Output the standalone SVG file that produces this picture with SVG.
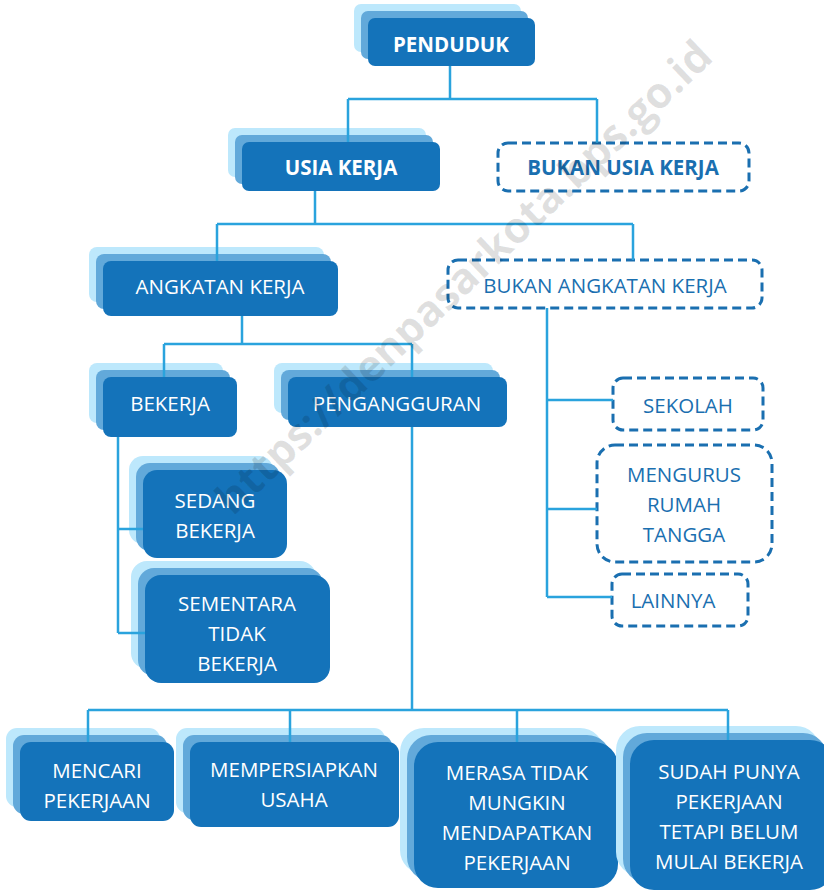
<svg xmlns="http://www.w3.org/2000/svg" width="824" height="892" viewBox="0 0 824 892">
<style>
.l1{fill:#bde8fc}
.l2{fill:#62a9da}
.l3{fill:#1473ba}
.d{fill:#fff;stroke:#1a6fb0;stroke-width:3;stroke-dasharray:9 5}
.t{font-family:"Open Sans","Liberation Sans",sans-serif;font-size:20.5px;text-anchor:middle;fill:#fff}
.b{font-weight:bold}
.bl{fill:#1a6fb0}
.c{fill:none;stroke:#2aa3dd;stroke-width:2.5}
.wm{font-family:"Open Sans","Liberation Sans",sans-serif;font-weight:bold;font-size:43px;fill:#000;fill-opacity:0.12;text-anchor:middle}
</style>
<rect width="824" height="892" fill="#fff"/>
<g id="penduduk">
<rect class="l1" x="354" y="4" width="167" height="48" rx="7"/>
<rect class="l2" x="361" y="11" width="167" height="48" rx="7"/>
<rect class="l3" x="368" y="18" width="167" height="48" rx="7"/>
<text class="t b" x="451" y="52">PENDUDUK</text>
</g>
<g id="usia-kerja">
<rect class="l1" x="228" y="128" width="198" height="49" rx="7"/>
<rect class="l2" x="235" y="135" width="198" height="49" rx="7"/>
<rect class="l3" x="242" y="142" width="198" height="49" rx="7"/>
<text class="t b" x="341" y="175">USIA KERJA</text>
</g>
<g id="bukan-usia-kerja">
<rect class="d" x="498" y="143" width="251" height="48" rx="10"/>
<text class="t b bl" x="623" y="175">BUKAN USIA KERJA</text>
</g>
<g id="angkatan-kerja">
<rect class="l1" x="89" y="247" width="235" height="55" rx="8"/>
<rect class="l2" x="96" y="254" width="235" height="55" rx="8"/>
<rect class="l3" x="103" y="261" width="235" height="55" rx="8"/>
<text class="t" x="220" y="294">ANGKATAN KERJA</text>
</g>
<g id="bukan-angkatan-kerja">
<rect class="d" x="448" y="260" width="314" height="48" rx="10"/>
<text class="t bl" x="605" y="293">BUKAN ANGKATAN KERJA</text>
</g>
<g id="bekerja">
<rect class="l1" x="89" y="363" width="134" height="60" rx="8"/>
<rect class="l2" x="96" y="370" width="134" height="60" rx="8"/>
<rect class="l3" x="103" y="377" width="134" height="60" rx="8"/>
<text class="t" x="170" y="411">BEKERJA</text>
</g>
<g id="pengangguran">
<rect class="l1" x="274" y="363" width="219" height="50" rx="8"/>
<rect class="l2" x="281" y="370" width="219" height="50" rx="8"/>
<rect class="l3" x="288" y="377" width="219" height="50" rx="8"/>
<text class="t" x="397" y="411">PENGANGGURAN</text>
</g>
<g id="sekolah">
<rect class="d" x="613" y="378" width="150" height="52" rx="10"/>
<text class="t bl" x="688" y="413">SEKOLAH</text>
</g>
<g id="mengurus-rumah-tangga">
<rect class="d" x="597" y="445" width="175" height="117" rx="18"/>
<text class="t bl" x="684" y="482">MENGURUS</text>
<text class="t bl" x="684" y="512">RUMAH</text>
<text class="t bl" x="684" y="542">TANGGA</text>
</g>
<g id="lainnya">
<rect class="d" x="612" y="574" width="136" height="52" rx="10"/>
<text class="t bl" x="673" y="608">LAINNYA</text>
</g>
<g id="sedang-bekerja">
<rect class="l1" x="129" y="456" width="144" height="88" rx="14"/>
<rect class="l2" x="136" y="463" width="144" height="88" rx="14"/>
<rect class="l3" x="143" y="470" width="144" height="88" rx="14"/>
<text class="t" x="215" y="508">SEDANG</text>
<text class="t" x="215" y="538">BEKERJA</text>
</g>
<g id="sementara-tidak-bekerja">
<rect class="l1" x="131" y="561" width="185" height="108" rx="16"/>
<rect class="l2" x="138" y="568" width="185" height="108" rx="16"/>
<rect class="l3" x="145" y="575" width="185" height="108" rx="16"/>
<text class="t" x="237" y="611">SEMENTARA</text>
<text class="t" x="237" y="641">TIDAK</text>
<text class="t" x="237" y="671">BEKERJA</text>
</g>
<g id="mencari-pekerjaan">
<rect class="l1" x="6" y="728" width="154" height="79" rx="11"/>
<rect class="l2" x="13" y="735" width="154" height="79" rx="11"/>
<rect class="l3" x="20" y="742" width="154" height="79" rx="11"/>
<text class="t" x="97" y="778">MENCARI</text>
<text class="t" x="97" y="808">PEKERJAAN</text>
</g>
<g id="mempersiapkan-usaha">
<rect class="l1" x="176" y="728" width="209" height="85" rx="11"/>
<rect class="l2" x="183" y="735" width="209" height="85" rx="11"/>
<rect class="l3" x="190" y="742" width="209" height="85" rx="11"/>
<text class="t" x="294" y="777">MEMPERSIAPKAN</text>
<text class="t" x="294" y="807">USAHA</text>
</g>
<g id="merasa-tidak-mungkin">
<rect class="l1" x="400" y="728" width="204" height="146" rx="24"/>
<rect class="l2" x="407" y="735" width="204" height="146" rx="24"/>
<rect class="l3" x="414" y="742" width="204" height="146" rx="24"/>
<text class="t" x="517" y="780">MERASA TIDAK</text>
<text class="t" x="517" y="810">MUNGKIN</text>
<text class="t" x="517" y="840">MENDAPATKAN</text>
<text class="t" x="517" y="870">PEKERJAAN</text>
</g>
<g id="sudah-punya-pekerjaan">
<rect class="l1" x="616" y="726" width="204" height="150" rx="24"/>
<rect class="l2" x="623" y="733" width="204" height="150" rx="24"/>
<rect class="l3" x="630" y="740" width="204" height="150" rx="24"/>
<text class="t" x="729" y="779">SUDAH PUNYA</text>
<text class="t" x="729" y="809">PEKERJAAN</text>
<text class="t" x="729" y="839">TETAPI BELUM</text>
<text class="t" x="729" y="869">MULAI BEKERJA</text>
</g>
<g id="connectors">
<path class="c" d="M450 66V99M348 99H597M348 99V142M597 99V143"/>
<path class="c" d="M315 191V224M217 224H633M217 224V261M633 224V260"/>
<path class="c" d="M242 316V344M164 344H412M164 344V377M412 344V377"/>
<path class="c" d="M118 437V633M118 529H143M118 633H145"/>
<path class="c" d="M547 308V597M547 400H613M547 509H597M547 597H612"/>
<path class="c" d="M412 427V710M88 710H728M88 710V742M290 710V742M517 710V742M728 710V740"/>
</g>
<text class="wm" transform="translate(474 288) rotate(-43.5)">https://denpasarkota.bps.go.id</text>
</svg>
